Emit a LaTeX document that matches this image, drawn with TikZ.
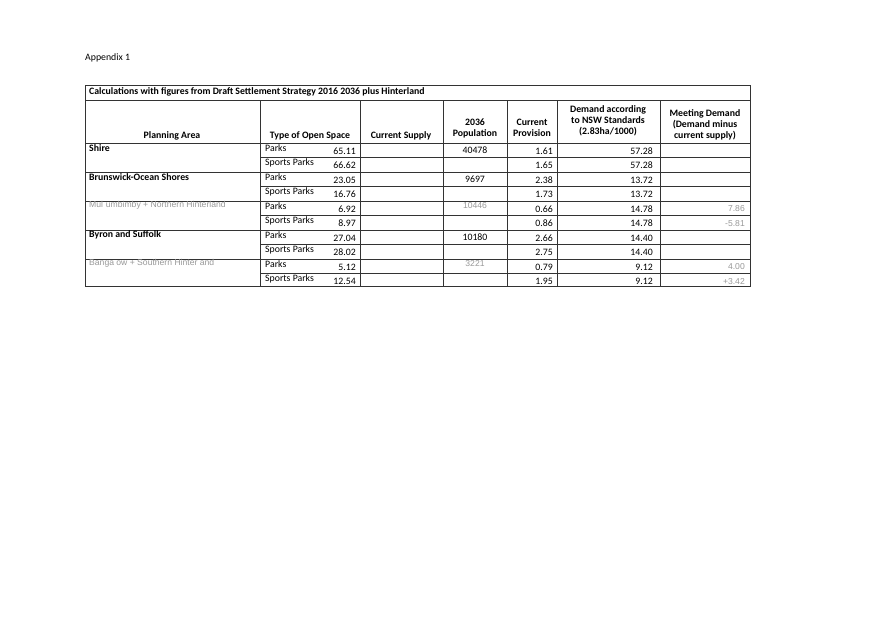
\documentclass[tikz,border=0pt]{standalone}
\usepackage{fontspec}
\setmainfont{Carlito}
\newfontfamily\faintfont{Liberation Sans}
\usetikzlibrary{positioning}
\tikzset{
  cell/.style={inner sep=1pt,font=\fontsize{9.8}{10}\selectfont},
  head/.style={cell,font=\fontsize{9.8}{11}\selectfont\bfseries,align=center},
  area/.style={cell,anchor=west,font=\fontsize{9.8}{10}\selectfont\bfseries},
  num/.style={cell,anchor=east},
  faint/.style={cell,text=black!40,font=\fontsize{8.6}{9}\selectfont\faintfont},
  grid/.style={line width=0.6pt,black!80},
}
\begin{document}
\begin{tikzpicture}[x=1pt,y=-1pt]
\useasboundingbox (0,0) rectangle (875,619);
\fill[white] (0,0) rectangle (875,619);

% title
\node[cell,anchor=west] (app) at (84,58) {Appendix 1};
\node[area] (title) at (88,92) {Calculations with figures from Draft Settlement Strategy 2016 2036 plus Hinterland};

% frame and rules
\draw[grid] (85,85) rectangle (750,286);
\draw[grid] (85,100) -- (750,100);
\foreach \x in {260,360,443,507,557,660}
  \draw[grid] (\x,100) -- (\x,286);
\foreach \y in {143,172,201,230,259}
  \draw[grid] (85,\y) -- (750,\y);
\foreach \y in {157.5,186.5,215.5,244.5,273.5}
  \draw[grid] (260,\y) -- (750,\y);

% header
\node[head] (hArea) at (172,136) {Planning Area};
\node[head] (hType) at (310,136) {Type of Open Space};
\node[head] (hSup) at (401,136) {Current Supply};
\node[head] (hPop) at (475,128) {2036\\Population};
\node[head] (hProv) at (532,128) {Current\\Provision};
\node[head] (hDem) at (608,121) {Demand according\\to NSW Standards\\(2.83ha/1000)};
\node[head] (hMeet) at (705,125) {Meeting Demand\\(Demand minus\\current supply)};

% areas
\node[area] (aShire) at (88,148) {Shire};
\node[area] (aBruns) at (88,177) {Brunswick-Ocean Shores};
\node[faint,anchor=west] (aMull) at (88,205) {Mul\,\,umbimby + Northern Hinterland};
\node[area] (aByron) at (88,235) {Byron and Suffolk};
\node[faint,anchor=west] (aBang) at (88,263) {Banga ow + Southern Hinter and};

% rows
\foreach \i/\sup/\prov/\dem in {0/65.11/1.61/57.28, 1/66.62/1.65/57.28, 2/23.05/2.38/13.72, 3/16.76/1.73/13.72,
  4/6.92/0.66/14.78, 5/8.97/0.86/14.78, 6/27.04/2.66/14.40, 7/28.02/2.75/14.40, 8/5.12/0.79/9.12, 9/12.54/1.95/9.12}{
  \pgfmathsetmacro{\yy}{148+14.5*\i}
  \pgfmathsetmacro{\yd}{151+14.5*\i}
  \pgfmathtruncatemacro{\odd}{mod(\i,2)}
  \ifnum\odd=0
    \node[cell,anchor=west] (t\i) at (264,\yy) {Parks};
  \else
    \node[cell,anchor=west] (t\i) at (264,\yy) {Sports Parks};
  \fi
  \node[num] (s\i) at (357,\yy+3) {\sup};
  \node[num] (p\i) at (554,\yy+3) {\prov};
  \node[num] (d\i) at (654,\yd) {\dem};
}

% population
\node[cell] (pop1) at (475,150) {40478};
\node[cell] (pop2) at (475,179) {9697};
\node[faint] (pop3) at (475,206) {10446};
\node[cell] (pop5) at (475,237) {10180};
\node[faint] (pop4) at (475,264) {3221};

% meeting demand
\node[faint,anchor=east] (m1) at (746,209) {7.86};
\node[faint,anchor=east] (m2) at (746,224) {-5.81};
\node[faint,anchor=east] (m3) at (746,267) {4.00};
\node[faint,anchor=east] (m4) at (746,282) {+3.42};
\end{tikzpicture}
\end{document}
